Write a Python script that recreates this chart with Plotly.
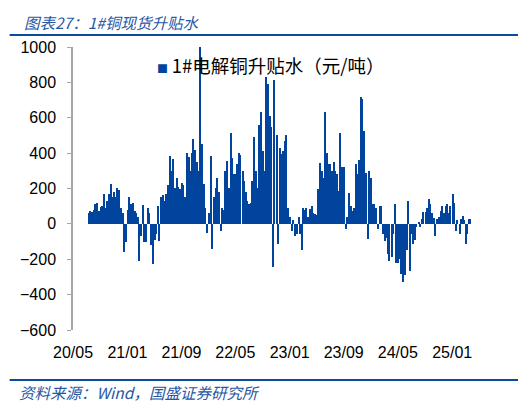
import pandas as pd
import plotly.graph_objects as go

# 1#电解铜升贴水 (元/吨), roughly weekly readings, 4 per month from 2020-05
months = pd.date_range("2020-05-01", "2025-03-01", freq="MS")
week_days = [4, 11, 18, 25]

premium = [
    0, 0, 0, 0,            # 2020-05
    0, 0, 0, 0,            # 2020-06
    0, 60, 75, 65,         # 2020-07
    80, 110, 120, 70,      # 2020-08
    95, 100, 170, 90,      # 2020-09
    130, 170, 225, 150,    # 2020-10
    180, 150, 205, 190,    # 2020-11
    90, 60, -160, -100,    # 2020-12
    80, 150, 110, 120,     # 2021-01
    70, 60, 40, -210,      # 2021-02
    -70, 105, -100, -105,  # 2021-03
    90, 60, -120, -228,    # 2021-04
    -90, -60, 100, -95,    # 2021-05
    150, 165, 130, 170,    # 2021-06
    220, 385, 300, 365,    # 2021-07
    205, 260, 210, 200,    # 2021-08
    230, 220, 150, 400,    # 2021-09
    380, 300, 400, 480,    # 2021-10
    420, 350, 300, 1000,   # 2021-11
    450, 225, 90, -50,     # 2021-12
    60, 385, -140, 150,    # 2022-01
    205, 260, 180, -40,    # 2022-02
    90, 80, 300, 355,      # 2022-03
    205, 515, 375, 280,    # 2022-04
    280, 340, 400, 390,    # 2022-05
    300, 240, 180, 130,    # 2022-06
    110, 120, 240, 490,    # 2022-07
    300, 205, 560, 630,    # 2022-08
    410, 300, 830, 790,    # 2022-09
    610, 545, -245, 815,   # 2022-10
    500, -115, 430, 395,   # 2022-11
    410, 470, 500, 90,     # 2022-12
    40, -40, 20, -70,      # 2023-01
    -60, 40, -60, -150,    # 2023-02
    90, 80, 90, 40,        # 2023-03
    85, 100, 60, 55,       # 2023-04
    50, 200, 345, 300,     # 2023-05
    260, 630, 400, 340,    # 2023-06
    340, 300, 350, 300,    # 2023-07
    280, 185, 515, 320,    # 2023-08
    320, -30, 40, 175,     # 2023-09
    100, 75, 90, 340,      # 2023-10
    280, 360, 720, 705,    # 2023-11
    525, 290, -85, 300,    # 2023-12
    260, 110, 110, 90,     # 2024-01
    -30, 100, 100, -60,    # 2024-02
    -95, -80, -170, -210,  # 2024-03
    -190, -60, 110, -220,  # 2024-04
    -220, -200, -285, -330,  # 2024-05
    -290, -150, 130, -265,   # 2024-06
    -60, -115, -90, -20,   # 2024-07
    10, -20, 30, 65,       # 2024-08
    65, 90, 140, 110,      # 2024-09
    60, 35, -70, 30,       # 2024-10
    40, 70, 100, 60,       # 2024-11
    100, 110, 60, 100,     # 2024-12
    170, 120, -40, 20,     # 2025-01
    -60, 30, 45, 20,       # 2025-02
    -115, -60, 25, 30,     # 2025-03
]

tick_dates = ["2020-05-01", "2021-01-01", "2021-09-01", "2022-05-01",
              "2023-01-01", "2023-09-01", "2024-05-01", "2025-01-01"]

series_name = "1#电解铜升贴水（元/吨）"
title_text = "图表27：1#铜现货升贴水"
source_text = "资料来源：Wind，国盛证券研究所"

dates = [m + pd.Timedelta(days=d - 1) for m in months for d in week_days]

BLUE = "#00449e"
TXT_BLUE = "#2857a4"
RULE_BLUE = "#0b4a9c"

fig = go.Figure()
fig.add_bar(
    x=dates, y=premium, name=series_name, showlegend=False,
    marker=dict(color=BLUE, line=dict(width=0)),
    width=7 * 86400000 * 0.92,
)

x_range = ["2020-05-01", "2025-04-09"]

# page body has an 8px margin, so the figure is 8px smaller and margins shifted
fig.update_layout(
    width=518, height=397,
    margin=dict(l=61, r=52, t=39, b=75),
    paper_bgcolor="white", plot_bgcolor="white",
    font=dict(family="Liberation Sans, Arial, Noto Sans CJK SC", size=16, color="black"),
    bargap=0,
    xaxis=dict(
        type="date", range=x_range,
        tickvals=tick_dates, tickformat="%y/%m",
        showgrid=False, showline=False, zeroline=False,
        ticks="outside", ticklen=8, tickcolor="rgba(0,0,0,0)",
        tickfont=dict(size=16),
    ),
    xaxis2=dict(
        type="date", range=x_range, overlaying="x", matches="x",
        anchor="free", position=0.375,
        tickvals=tick_dates, showticklabels=False,
        showgrid=False, zeroline=False,
        showline=True, linecolor="black", linewidth=1.5,
        ticks="inside", ticklen=4, tickwidth=2, tickcolor="black",
    ),
    yaxis=dict(
        range=[-600, 1000], dtick=200,
        showgrid=False, zeroline=False,
        showline=True, linecolor="#a6a6a6", linewidth=1.5,
        ticks="outside", ticklen=4, tickcolor="#a6a6a6",
        ticklabelstandoff=8,
        tickfont=dict(size=16),
    ),
)

# legend key drawn as text so the small square sits next to the label
fig.add_annotation(
    xref="paper", yref="paper", x=0.205, y=0.935,
    xanchor="left", yanchor="middle", showarrow=False,
    text=f'<span style="color:{BLUE};font-size:11px">■</span>\u2009{series_name}',
    font=dict(family="Noto Sans CJK SC", size=18.5, color="black"),
)

# header / footer rules and texts
fig.add_shape(type="line", xref="paper", yref="paper",
              x0=-0.158, x1=1.114, y0=1.042, y1=1.042,
              line=dict(color=RULE_BLUE, width=2))
fig.add_shape(type="line", xref="paper", yref="paper",
              x0=-0.158, x1=1.114, y0=-0.177, y1=-0.177,
              line=dict(color=RULE_BLUE, width=2))
fig.add_annotation(
    xref="paper", yref="paper", x=-0.128, y=1.136,
    xanchor="left", yanchor="top", showarrow=False,
    text=f"<i>{title_text}</i>",
    font=dict(family="Noto Sans CJK SC", size=15.5, color=TXT_BLUE),
)
fig.add_annotation(
    xref="paper", yref="paper", x=-0.14, y=-0.219,
    xanchor="left", yanchor="middle", showarrow=False,
    text=f"<i>{source_text}</i>",
    font=dict(family="Noto Sans CJK SC", size=15.5, color=TXT_BLUE),
)

fig.write_html("out.html")
